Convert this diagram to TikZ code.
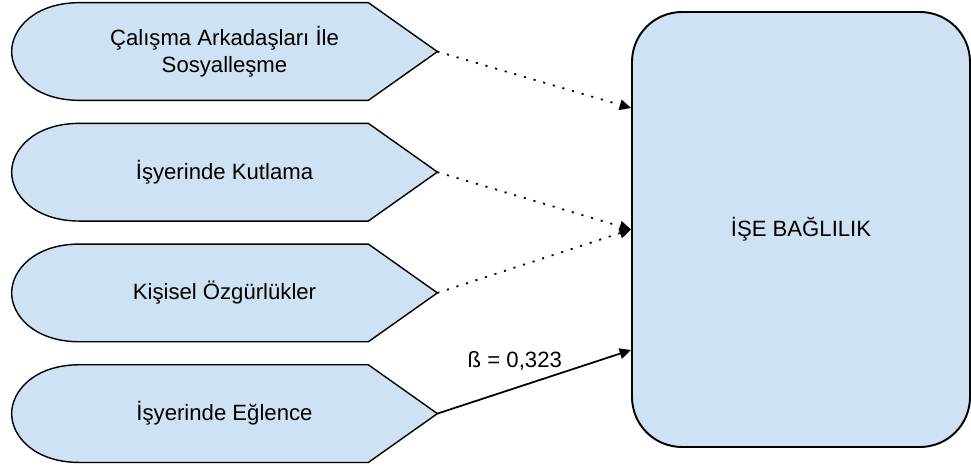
\documentclass[tikz,border=0pt]{standalone}
\usepackage{fontspec}
\setmainfont{Liberation Sans}
\usetikzlibrary{arrows.meta,positioning,calc,backgrounds}
\definecolor{boxblue}{RGB}{207,226,243}

\begin{document}
\begin{tikzpicture}[>={Triangle[length=6.5pt,width=6pt]}, node distance=0.46cm,
  every node/.style={font=\fontsize{12.6}{15.5}\selectfont},
  factor/.style={minimum width=8.5cm,minimum height=1.94cm,inner sep=0pt,align=center},
  result/.style={draw,line width=1.1pt,fill=boxblue,rounded corners=1cm,minimum width=6.76cm,minimum height=8.7cm},
  weak/.style={->,line width=1pt,dash pattern=on 1.2pt off 4.5pt},
  strong/.style={->,line width=1pt}]
  \useasboundingbox (0,0) rectangle (19.42,9.34);
  \node[factor] (sos) at (4.49,8.31) {Çalışma Arkadaşları İle\\Sosyalleşme};
  \node[factor,below=of sos] (kut) {İşyerinde Kutlama};
  \node[factor,below=of kut] (ozg) {Kişisel Özgürlükler};
  \node[factor,below=of ozg] (egl) {İşyerinde Eğlence};
  \node[result] (bag) at (16.02,4.75) {İŞE BAĞLILIK};
  % pointed outlines behind the factor texts
  \begin{scope}[on background layer]
    \foreach \f in {sos,kut,ozg,egl} {
      \draw[line width=0.8pt,fill=boxblue] ($(\f.north east)+(-1.38,0)$) -- (\f.east) -- ($(\f.south east)+(-1.38,0)$)
        -- ($(\f.south west)+(1.36,0)$) .. controls ($(\f.south west)+(0.45,0)$) and ($(\f.west)+(0,-0.45)$) .. (\f.west)
        .. controls ($(\f.west)+(0,0.45)$) and ($(\f.north west)+(0.45,0)$) .. ($(\f.north west)+(1.36,0)$) -- cycle;
    }
  \end{scope}
  \coordinate (top) at ($(bag.west)+(0,2.43)$);
  \coordinate (low) at ($(bag.west)+(0,-2.41)$);
  \draw[weak] (sos.east) -- (top);
  \draw[weak] (kut.east) -- (bag.west);
  \draw[weak] (ozg.east) -- (bag.west);
  \draw[strong] (egl.east) -- node[pos=0.4,above=0.22cm] (beta) {ß = 0,323} (low);
\end{tikzpicture}
\end{document}
